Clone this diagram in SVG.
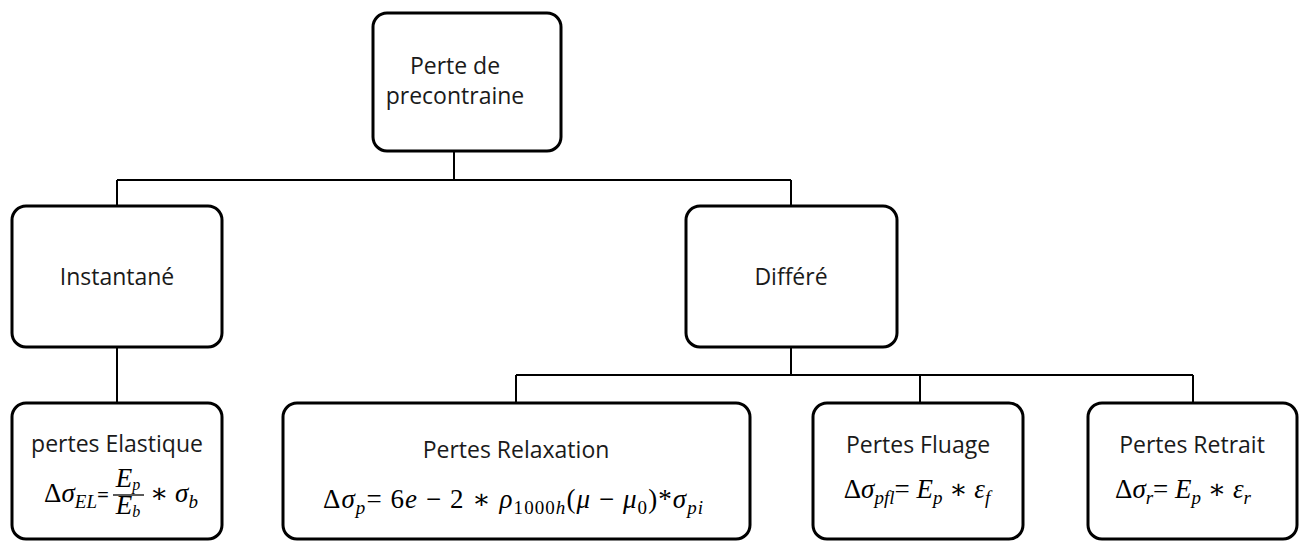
<svg xmlns="http://www.w3.org/2000/svg" width="1306" height="542" viewBox="0 0 1306 542">
  <style>
    .box { fill: #ffffff; stroke: #000000; stroke-width: 3; }
    .wire { fill: none; stroke: #000000; stroke-width: 2; }
    .lbl { font-family: "Open Sans", "Noto Sans", sans-serif; font-size: 23px; fill: #1a1a1a; text-anchor: middle; }
    .m { font-family: "Liberation Serif", "DejaVu Serif", serif; font-size: 27px; fill: #000000; }
    .i { font-style: italic; }
    .sub { font-size: 19px; }
  </style>

  <!-- connectors -->
  <g id="connectors">
    <path class="wire" d="M454 151 V180 M117 180 H791 M117 180 V206 M791 180 V206"/>
    <path class="wire" d="M117 347 V403"/>
    <path class="wire" d="M791 347 V375 M516 375 H1193 M516 375 V403 M920 375 V403 M1193 375 V403"/>
  </g>

  <!-- root -->
  <g id="node-perte">
    <rect class="box" x="373" y="13" width="188" height="138" rx="14"/>
    <text class="lbl" x="455" y="74" font-size="22">Perte de</text>
    <text class="lbl" x="455" y="104" font-size="22">precontraine</text>
  </g>

  <!-- level 1 -->
  <g id="node-instantane">
    <rect class="box" x="12" y="206" width="210" height="141" rx="14"/>
    <text class="lbl" x="117" y="285">Instantané</text>
  </g>
  <g id="node-differe">
    <rect class="box" x="686" y="206" width="211" height="141" rx="14"/>
    <text class="lbl" x="791" y="285">Différé</text>
  </g>

  <!-- level 2 -->
  <g id="node-elastique">
    <rect class="box" x="12" y="403" width="210" height="136" rx="14"/>
    <text class="lbl" x="117" y="452">pertes Elastique</text>
    <text class="m" x="109" y="502" text-anchor="end">Δ<tspan class="i">σ</tspan><tspan class="i sub" dy="6">EL</tspan><tspan dy="-6" font-family="Open Sans, sans-serif" font-size="21">=</tspan></text>
    <!-- fraction Ep / Eb -->
    <text class="m i" text-anchor="middle" font-size="22"><tspan x="128" y="487">E<tspan font-size="16" dy="3">p</tspan></tspan><tspan x="128" y="514">E<tspan font-size="16" dy="3">b</tspan></tspan></text>
    <line x1="113" y1="495" x2="144" y2="495" stroke="#000" stroke-width="1.3"/>
    <text class="m" x="150" y="502">∗ <tspan class="i">σ</tspan><tspan class="i sub" dy="6">b</tspan></text>
  </g>

  <g id="node-relaxation">
    <rect class="box" x="283" y="403" width="467" height="136" rx="14"/>
    <text class="lbl" x="516" y="458">Pertes Relaxation</text>
    <text class="m" x="513" y="508" text-anchor="middle" textLength="380" lengthAdjust="spacing">Δ<tspan class="i">σ</tspan><tspan class="i sub" dy="6">p</tspan><tspan dy="-6">= 6<tspan class="i">e</tspan> − 2 ∗ <tspan class="i">ρ</tspan></tspan><tspan class="sub" dy="6">1000<tspan class="i">h</tspan></tspan><tspan dy="-6">(<tspan class="i">μ</tspan> − <tspan class="i">μ</tspan></tspan><tspan class="sub" dy="6">0</tspan><tspan dy="-6">)*<tspan class="i">σ</tspan></tspan><tspan class="i sub" dy="6">pi</tspan></text>
  </g>

  <g id="node-fluage">
    <rect class="box" x="813" y="403" width="210" height="136" rx="14"/>
    <text class="lbl" x="918" y="453">Pertes Fluage</text>
    <text class="m" x="917" y="498" text-anchor="middle">Δ<tspan class="i">σ</tspan><tspan class="i sub" dy="6">pfl</tspan><tspan dy="-6">= <tspan class="i">E</tspan></tspan><tspan class="i sub" dy="6">p</tspan><tspan dy="-6"> ∗ <tspan class="i">ε</tspan></tspan><tspan class="i sub" dy="6">f</tspan></text>
  </g>

  <g id="node-retrait">
    <rect class="box" x="1088" y="403" width="209" height="136" rx="14"/>
    <text class="lbl" x="1192" y="453">Pertes Retrait</text>
    <text class="m" x="1183" y="498" text-anchor="middle">Δ<tspan class="i">σ</tspan><tspan class="i sub" dy="6">r</tspan><tspan dy="-6">= <tspan class="i">E</tspan></tspan><tspan class="i sub" dy="6">p</tspan><tspan dy="-6"> ∗ <tspan class="i">ε</tspan></tspan><tspan class="i sub" dy="6">r</tspan></text>
  </g>
</svg>
